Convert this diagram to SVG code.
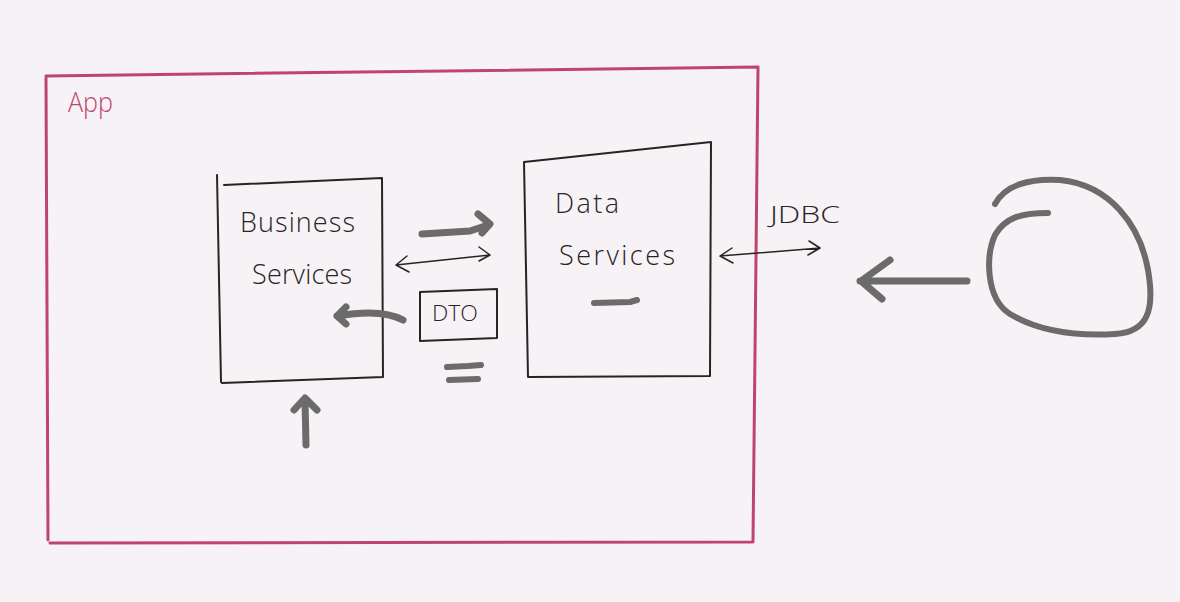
<svg xmlns="http://www.w3.org/2000/svg" width="1180" height="602" viewBox="0 0 1180 602">
<style>
.bg{fill:#f6f2f6}
.frame{fill:none;stroke:#c0446f;stroke-width:3;stroke-linecap:round;stroke-linejoin:round}
.box{fill:none;stroke:#2a2324;stroke-width:2;stroke-linecap:round;stroke-linejoin:round}
.thin{fill:none;stroke:#2a2324;stroke-width:1.5;stroke-linecap:round;stroke-linejoin:round}
.mark{fill:none;stroke:#6b6b6b;stroke-width:7;stroke-linecap:round;stroke-linejoin:round}
.txt{font-family:"Open Sans","Liberation Sans",sans-serif;font-weight:300;fill:#2a2324}
</style>
<rect class="bg" x="0" y="0" width="1180" height="602"/>
<g id="app">
<path class="frame" d="M46,78 L48,540 M46,76 L758,67 L753,542 M50,543 L753,542"/>
<text class="txt" x="68" y="112" font-size="28" textLength="45" lengthAdjust="spacingAndGlyphs" style="fill:#c0446f">App</text>
</g>
<g id="business-services">
<path class="box" d="M217,175 L221,382 M224,185 L382,178 L383,377 M222,383 L383,377"/>
<text class="txt" x="240" y="232" font-size="27" textLength="115">Business</text>
<text class="txt" x="252" y="284" font-size="27" textLength="100">Services</text>
</g>
<g id="data-services">
<path class="box" d="M524,162 L711,142 L710,376 L528,377 Z"/>
<text class="txt" x="555" y="213" font-size="27" textLength="64">Data</text>
<text class="txt" x="559" y="265" font-size="27" textLength="116">Services</text>
<path class="mark" d="M594,303 L630,302 L637,300" style="stroke-width:6"/>
</g>
<g id="dto">
<path class="box" d="M420,292 L497,289 L497,338 L420,341 Z"/>
<text class="txt" x="432" y="321" font-size="22" textLength="46" lengthAdjust="spacingAndGlyphs">DTO</text>
</g>
<g id="jdbc-label">
<text class="txt" x="770" y="223" font-size="24" textLength="70" lengthAdjust="spacingAndGlyphs">JDBC</text>
</g>
<g id="database">
<path class="mark" d="M995,204 C1005,185 1030,178 1060,180 C1110,185 1140,225 1148,270 C1155,310 1148,332 1115,334 C1080,336 1040,332 1010,314 C985,298 986,255 995,235 C1005,218 1020,213 1048,213" style="stroke-width:6"/>
</g>
<g id="connectors">
<path class="thin" d="M396,265 L490,255 M407,256 L396,265 L409,272 M479,247 L490,255 L479,261"/>
<path class="thin" d="M720,256 L820,248 M732,248 L720,256 L733,263 M809,241 L820,248 L808,255"/>
<path class="mark" d="M422,234 L470,231 L488,225 M478,214 L490,224 L482,233"/>
<path class="mark" d="M403,320 C385,310 360,312 337,316 M346,307 L337,316 L346,324"/>
<path class="mark" d="M306,445 L305,400 M294,410 L305,398 L317,410"/>
<path class="mark" d="M447,367 L468,366 L481,365 M449,380 L478,379" style="stroke-width:6"/>
<path class="mark" d="M967,281 L860,281 M890,260 L861,281 L882,299"/>
</g>
</svg>
